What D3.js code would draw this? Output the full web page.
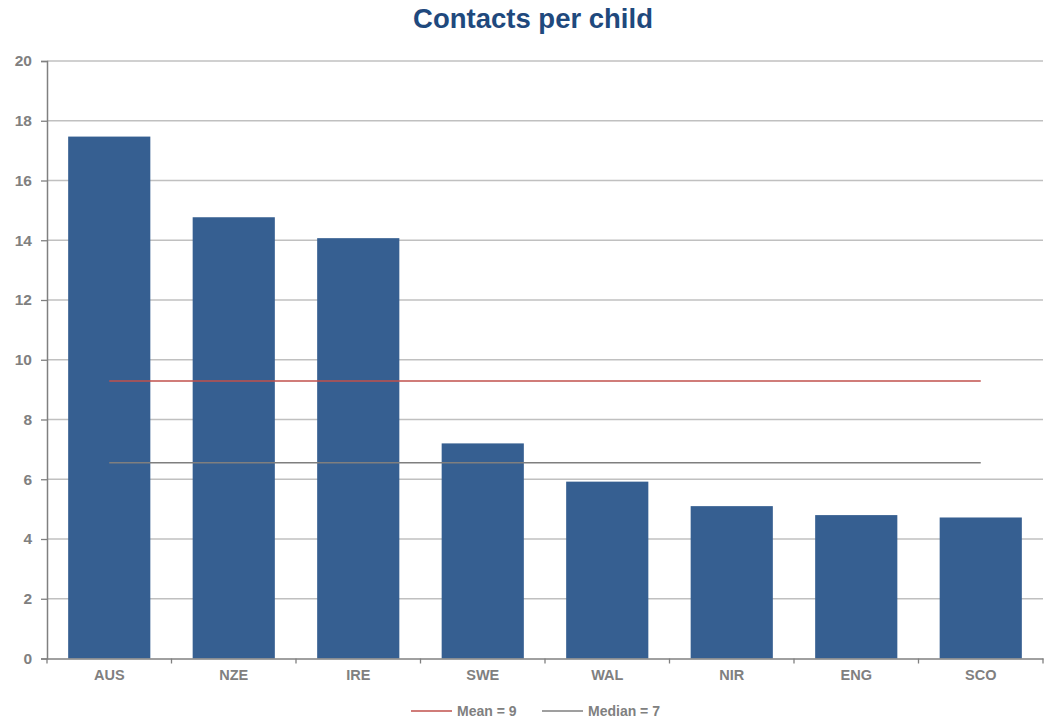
<!DOCTYPE html>
<html><head><meta charset="utf-8">
<script src="https://cdn.jsdelivr.net/npm/d3@7"></script>
<style>body{margin:0;background:#fff;font-family:"Liberation Sans",Arial,sans-serif}</style>
</head><body><svg id="c" width="1045" height="718"></svg>
<script>
const categories = ["AUS","NZE","IRE","SWE","WAL","NIR","ENG","SCO"];
const values = [17.47, 14.77, 14.07, 7.2, 5.92, 5.1, 4.8, 4.72];
const meanValue = 9.29;
const medianValue = 6.55;
const yTicks = [0,2,4,6,8,10,12,14,16,18,20];
const legendLabels = ["Mean = 9","Median = 7"];

(function(){
const svg = d3.select("#c");
const pL = 47, pR = 1043, pT = 61, pB = 658.5;
const x = d3.scaleBand().domain(categories).range([pL,pR]).paddingInner(0.34).paddingOuter(0.17);
const xb = d3.scaleBand().domain(categories).range([pL,pR]);
const y = d3.scaleLinear().domain([0,20]).range([pB,pT]);

svg.append("g").selectAll("line").data(yTicks.filter(d=>d>0)).join("line")
  .attr("x1",pL).attr("x2",pR).attr("y1",d=>y(d)).attr("y2",d=>y(d))
  .attr("stroke","#c0c0c0").attr("stroke-width",1.3);

svg.append("g").selectAll("rect").data(values).join("rect")
  .attr("x",(d,i)=>x(categories[i])).attr("width",x.bandwidth())
  .attr("y",d=>y(d)).attr("height",d=>pB-y(d)).attr("fill","#365f91");

const lx1 = xb(categories[0])+xb.bandwidth()/2, lx2 = xb(categories[categories.length-1])+xb.bandwidth()/2;
svg.append("line").attr("x1",lx1).attr("x2",lx2).attr("y1",y(meanValue)).attr("y2",y(meanValue))
  .attr("stroke","#c0504d").attr("stroke-width",1.6);
svg.append("line").attr("x1",lx1).attr("x2",lx2).attr("y1",y(medianValue)).attr("y2",y(medianValue))
  .attr("stroke","#7f7f7f").attr("stroke-width",1.6);

const ya = svg.append("g").attr("transform",`translate(${pL},0)`)
  .call(d3.axisLeft(y).tickValues(yTicks).tickSize(6).tickPadding(9));
ya.select(".domain").attr("stroke","#808080").attr("stroke-width",1.5);
ya.selectAll(".tick line").attr("stroke","#808080").attr("stroke-width",1.3);
ya.selectAll("text").attr("fill","#808080").style("font-size","15.5px").style("font-weight","bold")
  .style("font-family","'Liberation Sans',Arial,sans-serif");

const xa = svg.append("g").attr("transform",`translate(0,${pB})`)
  .call(d3.axisBottom(xb).tickSize(0).tickPadding(11));
xa.select(".domain").attr("stroke","#808080").attr("stroke-width",1.5);
xa.selectAll("text").attr("fill","#808080").style("font-size","14.5px").style("font-weight","bold")
  .style("font-family","'Liberation Sans',Arial,sans-serif");
svg.append("g").selectAll("line").data(d3.range(categories.length+1)).join("line")
  .attr("x1",i=>pL+i*xb.step()).attr("x2",i=>pL+i*xb.step())
  .attr("y1",pB).attr("y2",pB+5).attr("stroke","#808080").attr("stroke-width",1.3);

svg.append("text").attr("x",533).attr("y",28).attr("text-anchor","middle")
  .attr("fill","#1f497d").style("font-size","27.5px").style("font-weight","bold").text("Contacts per child");

const leg = [{c:"#c0504d",x:411},{c:"#7f7f7f",x:542}];
leg.forEach((l,i)=>{
  svg.append("line").attr("x1",l.x).attr("x2",l.x+41).attr("y1",711).attr("y2",711).attr("stroke",l.c).attr("stroke-width",1.6);
  svg.append("text").attr("x",l.x+46).attr("y",716).attr("fill","#808080")
    .style("font-size","14px").style("font-weight","bold").text(legendLabels[i]);
});
})();
</script></body></html>
